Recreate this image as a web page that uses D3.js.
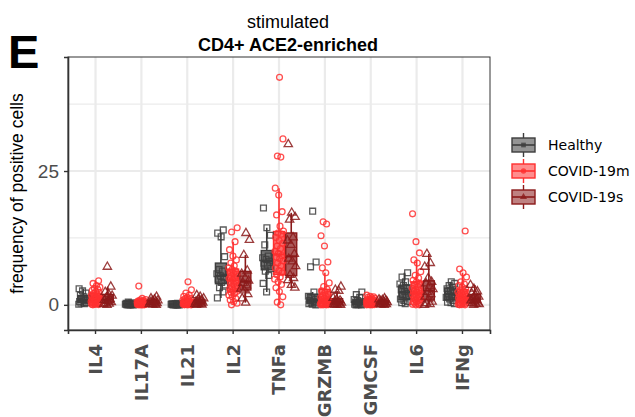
<!DOCTYPE html>
<html>
<head>
<meta charset="utf-8">
<script src="https://cdn.jsdelivr.net/npm/d3@7"></script>
<style>
  body { margin: 0; background: #fff; }
  svg { display: block; }
</style>
</head>
<body>
<svg id="chart" width="635" height="417"></svg>
<script>
// Cytokines on the x axis
const categories = ["IL4", "IL17A", "IL21", "IL2", "TNFa", "GRZMB", "GMCSF", "IL6", "IFNg"];
const groups = ["Healthy", "COVID-19m", "COVID-19s"];

// Frequency of positive cells per donor, one list per cytokine (same order as categories)
const healthy = [
  [0.1, 0.2, 0.3, 0.4, 0.5, 0.6, 0.8, 1.0, 1.2, 1.5, 1.8, 2.2, 2.6, 3.0],
  [0, 0, 0, 0.05, 0.05, 0.1, 0.1, 0.15, 0.2, 0.2, 0.25, 0.3, 0.4, 0.5],
  [0, 0, 0, 0, 0.05, 0.05, 0.1, 0.1, 0.1, 0.15, 0.15, 0.2, 0.2, 0.3],
  [1.3, 2.4, 3.2, 3.7, 4.2, 4.8, 5.1, 5.4, 5.8, 6.3, 6.6, 9.0, 12.7, 13.4, 14.0],
  [2.4, 4.0, 5.5, 6.3, 6.8, 7.4, 7.8, 8.2, 8.5, 8.8, 9.1, 11.2, 13.0, 14.4, 18.1],
  [0, 0.1, 0.2, 0.3, 0.4, 0.5, 0.6, 0.8, 1.0, 1.3, 1.6, 2.4, 7.1, 8.0, 17.5],
  [0, 0, 0.05, 0.1, 0.1, 0.2, 0.3, 0.4, 0.5, 0.6, 0.8, 1.0, 1.4, 1.9, 2.4],
  [0.2, 0.4, 0.6, 0.8, 1.1, 1.5, 1.9, 2.2, 2.5, 2.8, 3.2, 3.6, 3.9, 4.3, 5.2, 6.0],
  [0.2, 0.4, 0.5, 0.8, 1.1, 1.4, 1.7, 2.0, 2.3, 2.7, 3.0, 3.3, 3.6, 4.0, 4.3]
];
const covidMild = [
  [0, 0.05, 0.1, 0.1, 0.2, 0.2, 0.3, 0.3, 0.4, 0.5, 0.5, 0.6, 0.7, 0.8, 0.9, 1.0, 1.0, 1.1, 1.2, 1.3, 1.4, 1.5, 1.6, 1.7, 1.8, 2.0, 2.1, 2.3, 2.5, 2.7, 2.9, 3.1, 3.3, 3.6, 4.0, 4.5],
  [0, 0, 0, 0, 0.05, 0.05, 0.05, 0.1, 0.1, 0.1, 0.1, 0.15, 0.15, 0.2, 0.2, 0.2, 0.25, 0.25, 0.3, 0.3, 0.3, 0.35, 0.4, 0.4, 0.45, 0.5, 0.5, 0.55, 0.6, 0.65, 0.7, 0.8, 0.9, 1.0, 1.2, 3.5],
  [0, 0, 0, 0.05, 0.05, 0.1, 0.1, 0.1, 0.15, 0.15, 0.2, 0.2, 0.2, 0.25, 0.3, 0.3, 0.35, 0.4, 0.4, 0.45, 0.5, 0.5, 0.6, 0.6, 0.7, 0.8, 0.9, 1.0, 1.1, 1.2, 1.4, 1.6, 1.8, 2.2, 2.8, 4.3],
  [0, 0.3, 0.6, 0.9, 1.2, 1.5, 1.8, 2.1, 2.3, 2.5, 2.7, 3.0, 3.2, 3.4, 3.6, 3.9, 4.2, 4.4, 4.7, 4.9, 5.1, 5.4, 5.7, 5.9, 6.1, 6.3, 6.6, 6.9, 7.3, 7.8, 8.4, 9.1, 10.3, 11.8, 13.6, 14.4],
  [0, 0.5, 1.5, 2.5, 3.2, 3.8, 4.3, 4.8, 5.2, 5.6, 6.0, 6.4, 6.9, 7.3, 7.8, 8.2, 8.6, 8.9, 9.2, 9.6, 10.0, 10.5, 11.0, 11.5, 12.0, 12.6, 13.2, 13.4, 13.8, 14.7, 16.8, 17.4, 20.5, 21.8, 27.6, 27.8, 31.0, 42.5],
  [0, 0, 0, 0.05, 0.1, 0.1, 0.15, 0.2, 0.2, 0.3, 0.3, 0.4, 0.5, 0.5, 0.6, 0.7, 0.8, 0.9, 1.0, 1.1, 1.2, 1.4, 1.6, 1.8, 2.0, 2.3, 2.6, 2.9, 3.4, 4.1, 6.0, 6.9, 8.0, 11.0, 12.9, 15.1, 15.5],
  [0, 0, 0, 0.05, 0.05, 0.1, 0.1, 0.1, 0.15, 0.2, 0.2, 0.25, 0.3, 0.3, 0.35, 0.4, 0.4, 0.45, 0.5, 0.5, 0.55, 0.6, 0.65, 0.7, 0.75, 0.8, 0.9, 1.0, 1.0, 1.1, 1.2, 1.3, 1.4, 1.5, 1.6, 1.8],
  [0, 0, 0.1, 0.2, 0.3, 0.4, 0.5, 0.6, 0.8, 0.9, 1.0, 1.2, 1.3, 1.5, 1.6, 1.8, 1.9, 2.0, 2.1, 2.3, 2.5, 2.7, 2.9, 3.1, 3.4, 3.7, 4.0, 4.3, 4.6, 5.0, 5.5, 6.2, 7.8, 8.4, 9.7, 11.8, 17.0],
  [0, 0, 0.05, 0.1, 0.2, 0.3, 0.3, 0.4, 0.5, 0.6, 0.7, 0.8, 0.9, 1.0, 1.1, 1.2, 1.3, 1.4, 1.5, 1.6, 1.8, 1.9, 2.0, 2.2, 2.4, 2.6, 2.8, 3.0, 3.3, 3.6, 3.9, 4.3, 5.2, 6.0, 6.7, 13.8]
];
const covidSevere = [
  [0, 0.1, 0.2, 0.3, 0.5, 0.7, 0.9, 1.1, 1.4, 1.7, 2.0, 2.4, 3.4, 7.1],
  [0, 0.05, 0.1, 0.15, 0.2, 0.3, 0.4, 0.5, 0.6, 0.7, 0.8, 1.0, 1.2, 1.5],
  [0, 0.05, 0.1, 0.15, 0.2, 0.3, 0.4, 0.5, 0.6, 0.8, 1.0, 1.2, 1.5, 1.8],
  [0.4, 1.2, 2.0, 2.7, 3.0, 3.6, 4.1, 4.5, 5.0, 5.8, 6.4, 9.3, 12.1, 13.4],
  [3.2, 3.7, 4.6, 5.0, 5.6, 7.2, 8.1, 8.6, 9.5, 11.2, 12.0, 12.6, 15.9, 16.4, 17.2, 30.0],
  [0, 0, 0.05, 0.1, 0.2, 0.3, 0.4, 0.5, 0.6, 0.8, 1.0, 1.3, 2.6, 2.8, 3.4],
  [0, 0.05, 0.1, 0.15, 0.2, 0.3, 0.4, 0.5, 0.6, 0.7, 0.8, 0.9, 1.0, 1.2],
  [0, 0.1, 0.3, 0.6, 1.0, 1.5, 2.0, 2.4, 2.9, 3.5, 4.0, 4.3, 5.0, 7.1, 7.8, 9.5],
  [0, 0.1, 0.2, 0.3, 0.4, 0.6, 0.8, 1.0, 1.2, 1.5, 1.8, 2.1, 2.5, 3.0, 3.7]
];

const yTicks = [0, 25];
const yMinorGrid = [12.5, 37.5];

// Per-group look
const groupStroke = ["#3d3d3d", "#ff3030", "#8b1a1a"];
const groupShape = [d3.symbolSquare, d3.symbolCircle, d3.symbolTriangle];
const groupSize = [34, 27, 30];
const seriesByGroup = [healthy, covidMild, covidSevere];

const svg = d3.select("#chart");
const panel = { left: 68, right: 490, top: 57, bottom: 330 };

const x = d3.scaleBand()
  .domain(categories)
  .range([panel.left, panel.right])
  .paddingInner(0)
  .paddingOuter(0.1);
const dodge = d3.scaleBand()
  .domain(groups)
  .range([-0.4 * x.step(), 0.4 * x.step()]);
const y = d3.scaleLinear().domain([-4.7, 46.3]).range([panel.bottom, panel.top]);
const boxW = 11;

// Panel grid
const grid = svg.append("g");
grid.selectAll("line.minor").data(yMinorGrid).join("line")
  .attr("x1", panel.left).attr("x2", panel.right)
  .attr("y1", d => y(d)).attr("y2", d => y(d))
  .attr("stroke", "#ebebeb").attr("stroke-width", 1.2);
grid.selectAll("line.major").data(yTicks).join("line")
  .attr("x1", panel.left).attr("x2", panel.right)
  .attr("y1", d => y(d)).attr("y2", d => y(d))
  .attr("stroke", "#ebebeb").attr("stroke-width", 2.2);
grid.selectAll("line.vx").data(categories).join("line")
  .attr("x1", d => x(d) + x.bandwidth() / 2).attr("x2", d => x(d) + x.bandwidth() / 2)
  .attr("y1", panel.top).attr("y2", panel.bottom)
  .attr("stroke", "#ebebeb").attr("stroke-width", 2.2);

// Box statistics (R type-7 quantiles, 1.5 IQR whiskers)
function boxStats(values) {
  const s = values.slice().sort(d3.ascending);
  const q1 = d3.quantileSorted(s, 0.25);
  const med = d3.quantileSorted(s, 0.5);
  const q3 = d3.quantileSorted(s, 0.75);
  const iqr = q3 - q1;
  const lo = d3.min(s.filter(v => v >= q1 - 1.5 * iqr));
  const hi = d3.max(s.filter(v => v <= q3 + 1.5 * iqr));
  return { q1, med, q3, lo, hi };
}

const boxes = [];
const points = [];
categories.forEach((cat, ci) => {
  groups.forEach((g, gi) => {
    const vals = seriesByGroup[gi][ci];
    const cx = x(cat) + x.bandwidth() / 2 + dodge(g) + dodge.bandwidth() / 2;
    boxes.push({ cx, gi, ...boxStats(vals) });
    vals.forEach((v, i) => {
      const frac = (i * 0.618034 + ci * 0.37 + gi * 0.21) % 1;
      points.push({ cx: cx + (frac - 0.5) * 9, v, gi });
    });
  });
});

// Boxplots
const boxG = svg.append("g");
const bx = boxG.selectAll("g").data(boxes).join("g");
bx.append("line")
  .attr("x1", d => d.cx).attr("x2", d => d.cx)
  .attr("y1", d => y(d.hi)).attr("y2", d => y(d.q3))
  .attr("stroke", d => groupStroke[d.gi]).attr("stroke-width", 1.6);
bx.append("line")
  .attr("x1", d => d.cx).attr("x2", d => d.cx)
  .attr("y1", d => y(d.q1)).attr("y2", d => y(d.lo))
  .attr("stroke", d => groupStroke[d.gi]).attr("stroke-width", 1.6);
bx.append("rect")
  .attr("x", d => d.cx - boxW / 2).attr("width", boxW)
  .attr("y", d => y(d.q3)).attr("height", d => Math.max(1, y(d.q1) - y(d.q3)))
  .attr("fill", d => groupStroke[d.gi]).attr("fill-opacity", 0.72)
  .attr("stroke", d => groupStroke[d.gi]).attr("stroke-width", 1.4);
bx.append("line")
  .attr("x1", d => d.cx - boxW / 2).attr("x2", d => d.cx + boxW / 2)
  .attr("y1", d => y(d.med)).attr("y2", d => y(d.med))
  .attr("stroke", d => groupStroke[d.gi]).attr("stroke-width", 2);

// Jittered donor points
svg.append("g").selectAll("path").data(points).join("path")
  .attr("transform", d => `translate(${d.cx},${y(d.v)})`)
  .attr("d", d => d3.symbol(groupShape[d.gi], groupSize[d.gi])())
  .attr("fill", "none")
  .attr("stroke", d => groupStroke[d.gi])
  .attr("stroke-opacity", 0.85)
  .attr("stroke-width", 1.3);

// Panel border
svg.append("rect")
  .attr("x", panel.left).attr("y", panel.top)
  .attr("width", panel.right - panel.left).attr("height", panel.bottom - panel.top)
  .attr("fill", "none").attr("stroke", "#333").attr("stroke-width", 1);

// Axes
const yAxis = svg.append("g")
  .attr("transform", `translate(${panel.left},0)`)
  .call(d3.axisLeft(y).tickValues(yTicks).tickSize(4).tickPadding(5));
yAxis.select(".domain").attr("stroke", "#333").attr("stroke-width", 1.6);
yAxis.selectAll(".tick line").attr("stroke", "#333").attr("stroke-width", 1.4);
yAxis.selectAll(".tick text")
  .attr("fill", "#4d4d4d")
  .style("font-family", "'Liberation Sans', Arial, sans-serif")
  .style("font-size", "19px");

const xAxis = svg.append("g")
  .attr("transform", `translate(0,${panel.bottom})`)
  .call(d3.axisBottom(x).tickSize(4));
xAxis.select(".domain").attr("stroke", "#333").attr("stroke-width", 1.6);
xAxis.selectAll(".tick line").attr("stroke", "#333").attr("stroke-width", 1.4);
xAxis.selectAll(".tick text")
  .attr("transform", "rotate(-90)")
  .attr("text-anchor", "end")
  .attr("x", -14).attr("y", 0).attr("dy", "0.36em")
  .attr("fill", "#4d4d4d")
  .style("font-family", "'DejaVu Sans', sans-serif")
  .style("font-weight", "bold")
  .style("font-size", "18px");

// Axis title
svg.append("text")
  .attr("transform", `translate(23,${(panel.top + panel.bottom) / 2}) rotate(-90)`)
  .attr("text-anchor", "middle")
  .style("font-family", "'Liberation Sans', Arial, sans-serif")
  .style("font-size", "17.5px")
  .attr("fill", "#000")
  .text("frequency of positive cells");

// Titles
svg.append("text")
  .attr("x", 288).attr("y", 28)
  .attr("text-anchor", "middle")
  .style("font-family", "'Liberation Sans', Arial, sans-serif")
  .style("font-size", "18px")
  .text("stimulated");
svg.append("text")
  .attr("x", 288).attr("y", 51)
  .attr("text-anchor", "middle")
  .style("font-family", "'Liberation Sans', Arial, sans-serif")
  .style("font-size", "18px")
  .style("font-weight", "bold")
  .text("CD4+ ACE2-enriched");

// Panel letter
svg.append("text")
  .attr("x", 8).attr("y", 68)
  .style("font-family", "'Liberation Sans', Arial, sans-serif")
  .style("font-size", "47px")
  .style("font-weight", "bold")
  .text("E");

// Legend
const legend = svg.append("g");
const keyW = 23, keyH = 14, keyX = 512;
const legendY = d3.scalePoint().domain(groups).range([145, 197]);
const lk = legend.selectAll("g").data(groups).join("g")
  .attr("transform", g => `translate(0,${legendY(g)})`);
lk.append("line")
  .attr("x1", keyX + keyW / 2).attr("x2", keyX + keyW / 2)
  .attr("y1", -12).attr("y2", 12)
  .attr("stroke", (g, i) => groupStroke[i]).attr("stroke-width", 1.4);
lk.append("rect")
  .attr("x", keyX).attr("y", -keyH / 2).attr("width", keyW).attr("height", keyH)
  .attr("fill", "#fff");
lk.append("rect")
  .attr("x", keyX).attr("y", -keyH / 2).attr("width", keyW).attr("height", keyH)
  .attr("fill", (g, i) => groupStroke[i]).attr("fill-opacity", 0.55)
  .attr("stroke", (g, i) => groupStroke[i]).attr("stroke-width", 1.4);
lk.append("line")
  .attr("x1", keyX).attr("x2", keyX + keyW)
  .attr("y1", 0).attr("y2", 0)
  .attr("stroke", (g, i) => groupStroke[i]).attr("stroke-width", 1.6);
lk.append("path")
  .attr("transform", `translate(${keyX + keyW / 2},0)`)
  .attr("d", (g, i) => d3.symbol(groupShape[i], 22)())
  .attr("fill", (g, i) => groupStroke[i]).attr("fill-opacity", 0.8);
lk.append("text")
  .attr("x", 548).attr("dy", "0.36em")
  .style("font-family", "'DejaVu Sans', sans-serif")
  .style("font-size", "14px")
  .attr("fill", "#000")
  .text(g => g);
</script>
</body>
</html>
